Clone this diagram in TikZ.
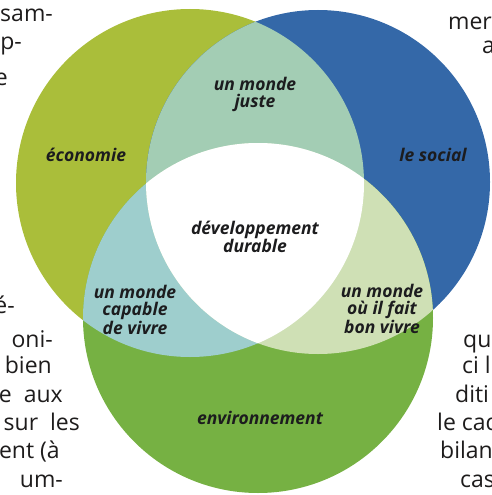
\documentclass[tikz,border=0pt]{standalone}
\usepackage{fontspec}
\setmainfont{Open Sans}
\definecolor{econ}{RGB}{170,190,58}
\definecolor{social}{RGB}{52,104,168}
\definecolor{envir}{RGB}{118,177,67}
\definecolor{juste}{RGB}{163,205,180}
\definecolor{capable}{RGB}{158,206,205}
\definecolor{bonvivre}{RGB}{207,224,181}
\definecolor{labelink}{RGB}{28,28,30}
\definecolor{bodyink}{RGB}{30,28,28}
\begin{document}
\begin{tikzpicture}[x=1pt,y=-1pt,
  lbl/.style={font=\fontsize{17.5}{17}\selectfont\bfseries\itshape,
    text=labelink, align=center, inner sep=0pt},
  bodyl/.style={font=\fontsize{23}{28}\selectfont, text=bodyink,
    inner sep=0pt, anchor=base east},
  bodyr/.style={font=\fontsize{23}{28}\selectfont, text=bodyink,
    inner sep=0pt, anchor=base west}]
\useasboundingbox (0,0) rectangle (491,495);
\begin{scope}
\clip (0,0) rectangle (491,495);

% running text of the surrounding page
\node[bodyl] (tl1) at (53,22) {isam-};
\node[bodyl] (tl2) at (22,50) {p-};
\node[bodyl] (tl3) at (8,85) {e};
\node[bodyr] (tr1) at (448,30) {mer};
\node[bodyr] (tr2) at (482,53) {a};
\node[bodyl] (bl1) at (15,313) {é-};
\node[bodyl] (bl2) at (53,347) {oni-};
\node[bodyl] (bl3) at (52,373) {bien};
\node[bodyl] (bl4) at (63,402) {e\ \ aux};
\node[bodyl] (bl5) at (80,430) {sur\ \ les};
\node[bodyl] (bl6) at (60,458) {ent (à};
\node[bodyl] (bl7) at (63,487) {um-};
\node[bodyr] (br1) at (463,347) {qu};
\node[bodyr] (br2) at (462,373) {ci l};
\node[bodyr] (br3) at (455,402) {diti};
\node[bodyr] (br4) at (437,430) {le cad};
\node[bodyr] (br5) at (440,458) {bilan};
\node[bodyr] (br6) at (460,487) {cas};

% the three circles
\fill[econ]   (190,183) circle [radius=174pt];
\fill[social] (318,182) circle [radius=172pt];
\fill[envir]  (258,318) circle [radius=175pt];

% pairwise overlaps
\begin{scope}
  \clip (190,183) circle [radius=174pt];
  \fill[juste] (318,182) circle [radius=172pt];
  \fill[capable] (258,318) circle [radius=175pt];
\end{scope}
\begin{scope}
  \clip (318,182) circle [radius=172pt];
  \fill[bonvivre] (258,318) circle [radius=175pt];
\end{scope}
% common core
\begin{scope}
  \clip (190,183) circle [radius=174pt];
  \clip (318,182) circle [radius=172pt];
  \fill[white] (258,318) circle [radius=175pt];
\end{scope}
\end{scope}

% labels
\node[lbl] (economie) at (86,155) {économie};
\node[lbl] (social) at (433,155) {le social};
\node[lbl] (environnement) at (260,418) {environnement};
\node[lbl] (monde juste) at (255,94) {un monde\\juste};
\node[lbl] (durable) at (255,237) {développement\\durable};
\node[lbl] (capable) at (135,310) {un monde\\capable\\de vivre};
\node[lbl] (bonvivre) at (382,309) {un monde\\où il fait\\bon vivre};
\end{tikzpicture}
\end{document}
